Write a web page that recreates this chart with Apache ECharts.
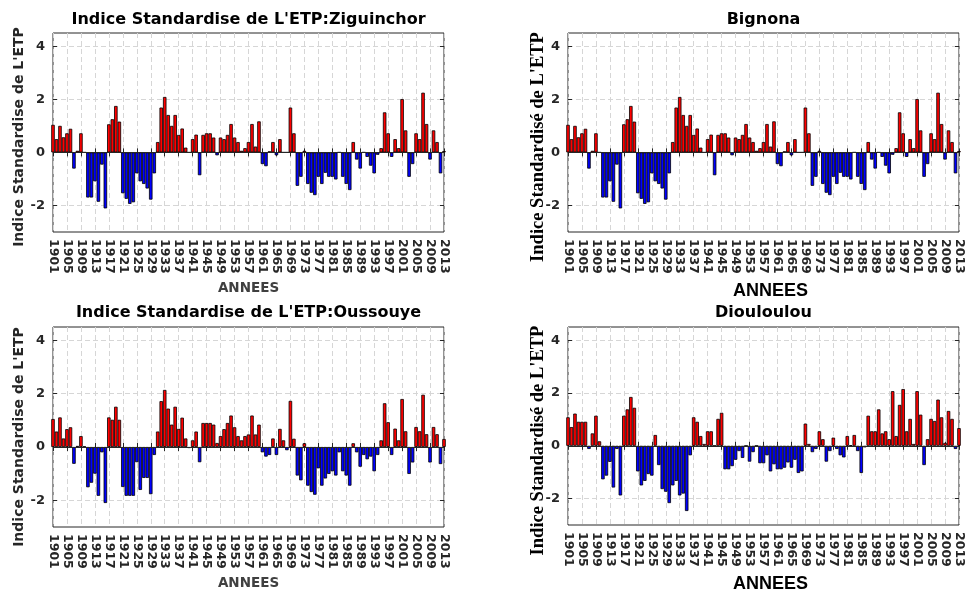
<!DOCTYPE html>
<html><head><meta charset="utf-8">
<script src="https://cdn.jsdelivr.net/npm/echarts@6/dist/echarts.min.js"></script>
<style>html,body{margin:0;padding:0;background:#fff}#c{width:970px;height:594px}</style>
</head><body><div id="c"></div>
<script>
const years = [];
for (let y = 1901; y <= 2013; y++) years.push(String(y));
const yTicks = [-2, 0, 2, 4];

const ziguinchor = [
 1.04, 0.5, 1.0, 0.57, 0.72, 0.89, -0.61, 0.06, 0.72, 0.0,
 -1.7, -1.7, -1.09, -1.86, -0.46, -2.11, 1.06, 1.25, 1.75, 1.16,
 -1.54, -1.75, -1.94, -1.88, -0.79, -1.09, -1.19, -1.36, -1.78, -0.79,
 0.39, 1.69, 2.09, 1.41, 1.0, 1.41, 0.66, 0.9, 0.18, 0.0,
 0.5, 0.67, -0.86, 0.66, 0.72, 0.72, 0.56, -0.11, 0.56, 0.5,
 0.66, 1.07, 0.56, 0.39, 0.06, 0.16, 0.39, 1.07, 0.22, 1.17,
 -0.44, -0.52, 0.04, 0.39, -0.11, 0.5, 0.0, 0.0, 1.69, 0.72,
 -1.26, -0.92, 0.06, -1.19, -1.52, -1.61, -0.92, -1.19, -0.77, -0.92,
 -0.92, -1.02, 0.0, -0.92, -1.19, -1.42, 0.39, -0.27, -0.61, 0.0,
 -0.17, -0.5, -0.79, -0.09, 0.16, 1.51, 0.72, -0.17, 0.5, 0.16,
 2.01, 0.83, -0.92, -0.44, 0.72, 0.5, 2.25, 1.07, -0.27, 0.83,
 0.39, -0.79, 0.05
];
const bignona = [
 1.04, 0.5, 1.0, 0.57, 0.72, 0.89, -0.61, 0.06, 0.72, 0.0,
 -1.7, -1.7, -1.09, -1.86, -0.46, -2.11, 1.06, 1.25, 1.75, 1.16,
 -1.54, -1.75, -1.94, -1.88, -0.79, -1.09, -1.19, -1.36, -1.78, -0.79,
 0.39, 1.69, 2.09, 1.41, 1.0, 1.41, 0.66, 0.9, 0.18, 0.0,
 0.5, 0.67, -0.86, 0.66, 0.72, 0.72, 0.56, -0.11, 0.56, 0.5,
 0.66, 1.07, 0.56, 0.39, 0.06, 0.16, 0.39, 1.07, 0.22, 1.17,
 -0.44, -0.52, 0.04, 0.39, -0.11, 0.5, 0.0, 0.0, 1.69, 0.72,
 -1.26, -0.92, 0.06, -1.19, -1.52, -1.61, -0.92, -1.19, -0.77, -0.92,
 -0.92, -1.02, 0.0, -0.92, -1.19, -1.42, 0.39, -0.27, -0.61, 0.0,
 -0.17, -0.5, -0.79, -0.09, 0.16, 1.51, 0.72, -0.17, 0.5, 0.16,
 2.01, 0.83, -0.92, -0.44, 0.72, 0.5, 2.25, 1.07, -0.27, 0.83,
 0.39, -0.79, 0.05
];
const oussouye = [
 1.05, 0.58, 1.11, 0.32, 0.67, 0.74, -0.63, 0.04, 0.41, 0.02,
 -1.51, -1.34, -1.0, -1.83, -0.2, -2.1, 1.11, 1.02, 1.51, 1.02,
 -1.5, -1.83, -1.83, -1.83, -0.57, -1.61, -1.16, -1.16, -1.77, -0.3,
 0.58, 1.72, 2.14, 1.44, 0.84, 1.51, 0.68, 1.1, 0.32, -0.04,
 0.25, 0.58, -0.57, 0.9, 0.9, 0.9, 0.84, 0.15, 0.41, 0.67,
 0.9, 1.18, 0.74, 0.41, 0.25, 0.41, 0.47, 1.18, 0.47, 0.84,
 -0.2, -0.36, -0.3, 0.32, -0.3, 0.68, 0.25, -0.12, 1.73, 0.31,
 -1.07, -1.25, 0.14, -1.45, -1.69, -1.79, -0.8, -1.45, -1.18, -1.01,
 -0.91, -1.07, -0.2, -0.91, -1.07, -1.45, 0.14, -0.2, -0.74, -0.3,
 -0.46, -0.36, -0.91, -0.3, 0.25, 1.64, 0.93, -0.3, 0.69, 0.25,
 1.8, 0.59, -1.01, -0.58, 0.75, 0.59, 1.96, 0.48, -0.58, 0.75,
 0.48, -0.64, 0.3
];
const diouloulou = [
 1.08, 0.71, 1.22, 0.91, 0.91, 0.91, -0.12, 0.47, 1.14, 0.17,
 -1.27, -1.13, -0.61, -1.58, -0.12, -1.88, 1.14, 1.38, 1.85, 1.44,
 -0.97, -1.5, -1.33, -1.07, -1.13, 0.41, -0.73, -1.64, -1.74, -2.17,
 -1.5, -1.33, -1.88, -1.81, -2.47, -0.36, 1.08, 0.91, 0.37, 0.07,
 0.55, 0.55, 0.0, 1.02, 1.25, -0.89, -0.89, -0.77, -0.53, -0.2,
 -0.46, 0.0, -0.6, -0.24, 0.0, -0.66, -0.66, -0.36, -0.97, -0.7,
 -0.89, -0.89, -0.83, -0.63, -0.83, -0.53, -1.03, -0.97, 0.84, 0.07,
 -0.24, -0.12, 0.55, 0.25, -0.6, -0.2, 0.31, -0.12, -0.36, -0.44,
 0.37, 0.02, 0.41, -0.2, -1.03, -0.06, 1.14, 0.55, 0.55, 1.38,
 0.47, 0.55, 0.25, 2.07, 0.37, 1.55, 2.15, 0.55, 1.02, 0.07,
 2.07, 1.18, -0.73, 0.25, 1.02, 0.94, 1.75, 1.08, 0.11, 1.32,
 1.02, -0.12, 0.67
];

const titles = ["Indice Standardise de L'ETP:Ziguinchor", "Bignona", "Indice Standardise de L'ETP:Oussouye", "Diouloulou"];
const yNames = ["Indice Standardise de L'ETP", "Indice Standardisé de L'ETP", "Indice Standardise de L'ETP", "Indice Standardisé de L'ETP"];
const xName = "ANNEES";
const seriesData = [ziguinchor, bignona, oussouye, diouloulou];

const layout = [
  {left: 53, top: 33, width: 391, height: 199, titleTop: 12, kind: 'A', yShift: 9},
  {left: 568, top: 33, width: 391, height: 199, titleTop: 12, kind: 'B', yShift: 29},
  {left: 53, top: 327, width: 391, height: 200, titleTop: 305, kind: 'A', yShift: 20},
  {left: 568, top: 327, width: 391, height: 200, titleTop: 305, kind: 'B', yShift: 29}
];
const styles = {
  A: {yFont: {fontFamily: 'DejaVu Sans', fontWeight: 'bold', fontSize: 14, color: '#262626'}, yGap: 27,
      xFont: {fontFamily: 'DejaVu Sans', fontWeight: 'bold', fontSize: 13.5, color: '#404040', padding: [0, 0, 0, 0]}, xGap: 49},
  B: {yFont: {fontFamily: 'Liberation Serif', fontWeight: 'bold', fontSize: 18.5, color: '#000'}, yGap: 20,
      xFont: {fontFamily: 'Liberation Sans', fontWeight: 'bold', fontSize: 18, color: '#000', padding: [0, 0, 0, 14]}, xGap: 50}
};

const tickFont = {fontFamily: 'DejaVu Sans', fontWeight: 'bold', fontSize: 12.5, color: '#262626'};
const grids = [], xAxes = [], yAxes = [], series = [], titleArr = [];

layout.forEach((L, k) => {
  const S = styles[L.kind];
  grids.push({left: L.left, top: L.top, width: L.width, height: L.height, show: true,
    borderColor: '#262626', borderWidth: 1, backgroundColor: '#fff'});
  titleArr.push({text: titles[k], left: L.left + L.width / 2, top: L.titleTop, textAlign: 'center', padding: 0,
    textStyle: {fontFamily: 'DejaVu Sans', fontWeight: 'bold', fontSize: 16, color: '#000'}});
  xAxes.push({gridIndex: k, type: 'category', data: years, boundaryGap: false, position: 'bottom',
    name: xName, nameLocation: 'middle', nameGap: S.xGap, nameTextStyle: S.xFont, nameMoveOverlap: false,
    axisLine: {show: false},
    axisTick: {show: true, inside: true, interval: 3, length: 4, lineStyle: {color: '#262626'}},
    axisLabel: Object.assign({show: true, interval: 3, rotate: -90, margin: 7}, tickFont),
    splitLine: {show: true, interval: 3, lineStyle: {color: '#d6d6d6', type: [5, 3], width: 1}}
  });
  xAxes.push({gridIndex: k, type: 'category', data: years, boundaryGap: false, position: 'top',
    axisLine: {show: false},
    axisTick: {show: true, inside: true, interval: 3, length: 4, lineStyle: {color: '#262626'}},
    axisLabel: {show: false}, splitLine: {show: false}
  });
  yAxes.push({gridIndex: k, type: 'value', min: -3, max: 4.5, position: 'left',
    name: yNames[k], nameLocation: 'middle', nameGap: S.yGap, nameRotate: 90, nameMoveOverlap: false,
    nameTextStyle: Object.assign({padding: [0, L.yShift, 0, 0]}, S.yFont),
    axisLine: {show: false},
    axisTick: {show: true, inside: true, length: 4, customValues: yTicks, lineStyle: {color: '#262626'}},
    axisLabel: Object.assign({show: true, margin: 8, customValues: yTicks}, tickFont, {fontSize: 13}),
    splitLine: {show: true, lineStyle: {color: '#d6d6d6', type: [5, 3], width: 1}}
  });
  yAxes.push({gridIndex: k, type: 'value', min: -3, max: 4.5, position: 'right',
    axisLine: {show: false},
    axisTick: {show: true, inside: true, length: 4, customValues: yTicks, lineStyle: {color: '#262626'}},
    axisLabel: {show: false}, splitLine: {show: false}
  });
  series.push({type: 'bar', xAxisIndex: 2 * k, yAxisIndex: 2 * k, data: seriesData[k],
    barCategoryGap: '0%', barGap: '0%', clip: true,
    itemStyle: {color: p => (p.value >= 0 ? '#ff0000' : '#0000ff'), borderColor: '#000', borderWidth: 0.8},
    markLine: {silent: true, symbol: ['none', 'none'], label: {show: false},
      lineStyle: {color: '#262626', type: 'solid', width: 1}, data: [{yAxis: 0}]}
  });
});

const chart = echarts.init(document.getElementById('c'), null, {renderer: 'canvas'});
chart.setOption({
  animation: false,
  backgroundColor: '#fff',
  title: titleArr,
  grid: grids,
  xAxis: xAxes,
  yAxis: yAxes,
  series: series
});
</script></body></html>
